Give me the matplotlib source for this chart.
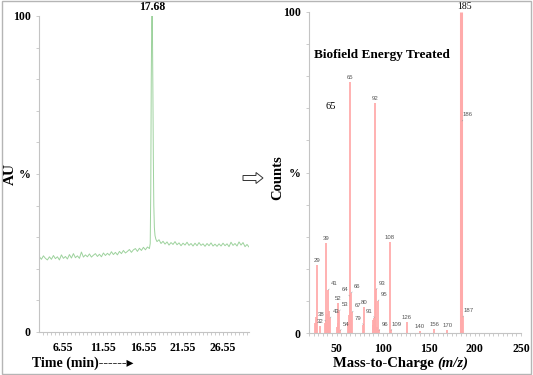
import matplotlib as mplt
mplt.use('Agg')
import numpy as np
import matplotlib.pyplot as plt
from matplotlib.patches import Rectangle, FancyArrow

# ---- chromatogram (left panel) ----
rt_min = [3.60, 3.85, 4.10, 4.35, 4.60, 4.85, 5.10, 5.35, 5.60, 5.85,
          6.10, 6.35, 6.60, 6.85, 7.10, 7.35, 7.60, 7.85, 8.10, 8.35,
          8.60, 8.85, 9.10, 9.35, 9.60, 9.85, 10.10, 10.35, 10.60, 10.85,
          11.10, 11.35, 11.60, 11.85, 12.10, 12.35, 12.60, 12.85, 13.10, 13.35,
          13.60, 13.85, 14.10, 14.35, 14.60, 14.85, 15.10, 15.35, 15.60, 15.85,
          16.10, 16.35, 16.60, 16.85, 17.10, 17.35,
          17.45, 17.52, 17.58, 17.63, 17.68, 17.73, 17.78, 17.84, 17.90, 17.97,
          18.05, 18.15, 18.30,
          18.55, 18.80, 19.05, 19.30, 19.55, 19.80, 20.05, 20.30, 20.55, 20.80,
          21.05, 21.30, 21.55, 21.80, 22.05, 22.30, 22.55, 22.80, 23.05, 23.30,
          23.55, 23.80, 24.05, 24.30, 24.55, 24.80, 25.05, 25.30, 25.55, 25.80,
          26.05, 26.30, 26.55, 26.80, 27.05, 27.30, 27.55, 27.80, 28.05, 28.30,
          28.55, 28.80, 29.05, 29.30, 29.55, 29.80]
au_pct = [23.8, 23.0, 24.1, 23.3, 22.8, 23.8, 23.0, 24.2, 23.2, 23.8,
          22.8, 24.4, 23.3, 23.9, 23.1, 24.5, 23.4, 24.8, 23.5, 24.1,
          23.3, 25.3, 23.7, 24.4, 23.8, 24.7, 23.7, 24.3, 24.8, 23.9,
          24.6, 23.8, 25.0, 24.2, 24.9, 24.3, 25.4, 24.5, 25.2, 24.4,
          25.5, 24.8, 25.8, 25.0, 25.5, 26.1, 25.2, 26.0, 26.4, 25.5,
          26.5, 25.8, 26.8, 26.0, 26.9, 26.4,
          28.0, 45.0, 80.0, 96.0, 100.0, 95.0, 78.0, 55.0, 40.0, 33.0,
          30.5, 29.4, 28.6,
          29.2, 28.0, 28.7, 27.8, 28.5, 27.5, 28.3, 27.7, 28.6, 27.6,
          28.2, 27.3, 28.1, 27.5, 28.4, 27.4, 28.0, 27.2, 28.1, 27.3,
          28.3, 27.4, 27.9, 27.1, 28.0, 27.3, 28.2, 27.2, 27.8, 27.1,
          27.9, 27.2, 28.1, 27.3, 27.9, 27.0, 28.4, 27.4, 28.0, 27.2,
          28.5, 27.5, 28.3, 27.0, 27.7, 26.9]
peak_rt = 17.68
rt_ticks = [6.55, 11.55, 16.55, 21.55, 26.55]

# ---- mass spectrum (right panel) ----
mz = [27, 28, 29, 32, 37, 38, 39, 40, 41, 42, 43, 50, 51, 52, 53, 54,
      62, 63, 64, 65, 66, 67, 79, 80, 89, 90, 91, 92, 93, 94, 95, 96,
      108, 109, 126, 140, 156, 170, 185, 186, 187]
counts = [3.0, 5.0, 21.2, 2.2, 3.0, 3.7, 28.0, 6.0, 13.4, 7.0, 4.7, 2.0, 3.0, 9.3, 6.9, 0.8,
          3.0, 5.5, 11.5, 78.1, 12.5, 6.5, 2.6, 8.2, 2.5, 4.0, 4.8, 71.6, 13.6, 2.0, 10.0, 0.8,
          28.4, 0.8, 3.3, 0.6, 1.2, 1.0, 100.0, 66.0, 5.0]
labelled = [29, 32, 38, 39, 41, 43, 52, 53, 54, 64, 65, 66, 67, 79, 80, 91, 92,
            93, 95, 96, 108, 109, 126, 140, 156, 170, 186, 187]
left_lab = [38, 64, 79, 91]
right_lab = [41, 43, 53, 54, 66, 67, 93, 95, 96, 109, 186, 187]
mz_ticks = [50, 100, 150, 200, 250]

serif = 'Liberation Serif'
green = '#9dd29d'
pink = '#ffabab'
grey = '#c4c4c4'

fig = plt.figure(figsize=(5.33, 3.75), dpi=100)

# ----- left: chromatogram -----
ax1 = fig.add_axes([0.0732, 0.1147, 0.394, 0.8427])
ax1.plot(rt_min, au_pct, color=green, lw=0.7)
ax1.set_xlim(3.55, 29.8)
ax1.set_ylim(0, 100)
ax1.annotate(f'{peak_rt:.2f}', xy=(peak_rt, 100), xytext=(0, 2), textcoords='offset points',
             ha='center', va='bottom', family=serif, weight='bold', size=8.5, annotation_clip=False)

# ----- right: spectrum -----
ax2 = fig.add_axes([0.5797, 0.112, 0.3977, 0.856])
lw = [2.2 if m == 185 else 1.3 for m in mz]
ax2.vlines(mz, 0, counts, colors=pink, lw=lw)
ax2.set_xlim(20, 250)
ax2.set_ylim(0, 100)

d_counts = dict(zip(mz, counts))
leader = dict(arrowstyle='-', color='#999999', lw=0.4, shrinkA=0, shrinkB=0)
for m in labelled:
    h = d_counts[m]
    if m in left_lab:
        off, ap = (-3.5, 4.5), leader
    elif m in right_lab:
        off, ap = (4.0, 4.5), leader
    else:
        off, ap = (0, 3.2), None
    ax2.annotate(str(m), xy=(m, h), xytext=off, textcoords='offset points',
                 ha='center', va='center', size=4.3, color='#555555',
                 family='Liberation Sans', arrowprops=ap)

ax2.annotate('185', xy=(185, 100), xytext=(2.5, 4), textcoords='offset points',
             ha='center', va='center', family=serif, size=7, annotation_clip=False)
ax2.text(44, 70.7, '65', family=serif, size=7.5, ha='center', va='center')

for ax, ticks, minor in [(ax1, rt_ticks, np.arange(4, 30, 0.5)), (ax2, mz_ticks, np.arange(20, 251, 5))]:
    for s in ['top', 'right']:
        ax.spines[s].set_visible(False)
    for s in ['left', 'bottom']:
        ax.spines[s].set_color(grey)
        ax.spines[s].set_linewidth(0.8)
    ax.set_xticks(ticks)
    ax.set_xticks(minor, minor=True)
    ax.set_yticks([0, 50, 100])
    ax.set_yticklabels(['0', '%', '100'])
    ax.set_yticks(np.arange(0, 101, 10), minor=True)
    ax.tick_params(which='both', length=2, width=0.6, color=grey)
    ax.tick_params(axis='x', which='major', pad=5)
    ax.tick_params(axis='y', which='major', pad=4)
    for lab in ax.get_xticklabels() + ax.get_yticklabels():
        lab.set_family(serif)
        lab.set_weight('bold')
        lab.set_size(8.5)
ax1.set_xticklabels([f'{t:.2f}' for t in rt_ticks])

# axis titles
fig.text(10 / 533, 1 - 174 / 375, 'AU', rotation=90, ha='center', va='center',
         family=serif, weight='bold', size=11)
fig.text(278 / 533, 1 - 178 / 375, 'Counts', rotation=90, ha='center', va='center',
         family=serif, weight='bold', size=10.5)
fig.text(32 / 533, 1 - 363 / 375, 'Time (min)------\u25b8', ha='left', va='center',
         family=[serif, 'DejaVu Sans'], weight='bold', size=10)
t1 = fig.text(333 / 533, 1 - 363 / 375, 'Mass-to-Charge ', ha='left', va='center',
              family=serif, weight='bold', size=10.5)
ax2.annotate('(m/z)', xy=(1, 0), xycoords=t1, ha='left', va='bottom',
             family=serif, weight='bold', style='italic', size=10.5, annotation_clip=False)
fig.text(382 / 533, 1 - 55 / 375, 'Biofield Energy Treated', ha='center', va='center',
         family=serif, weight='bold', size=9.5)

# hollow arrow between panels
fig.patches.append(FancyArrow(243 / 533, 1 - 178 / 375, 13 / 533, 0, width=5 / 375,
                              head_width=11 / 375, head_length=7 / 533,
                              facecolor='white', edgecolor='#333333', lw=0.7,
                              transform=fig.transFigure, figure=fig))

# frame around the whole picture
fig.patches.append(Rectangle((0.004, 0.003), 0.992, 0.994, fill=False, edgecolor='#b5b5b5',
                             lw=1, transform=fig.transFigure, figure=fig))

fig.savefig('out.png', dpi=100)
